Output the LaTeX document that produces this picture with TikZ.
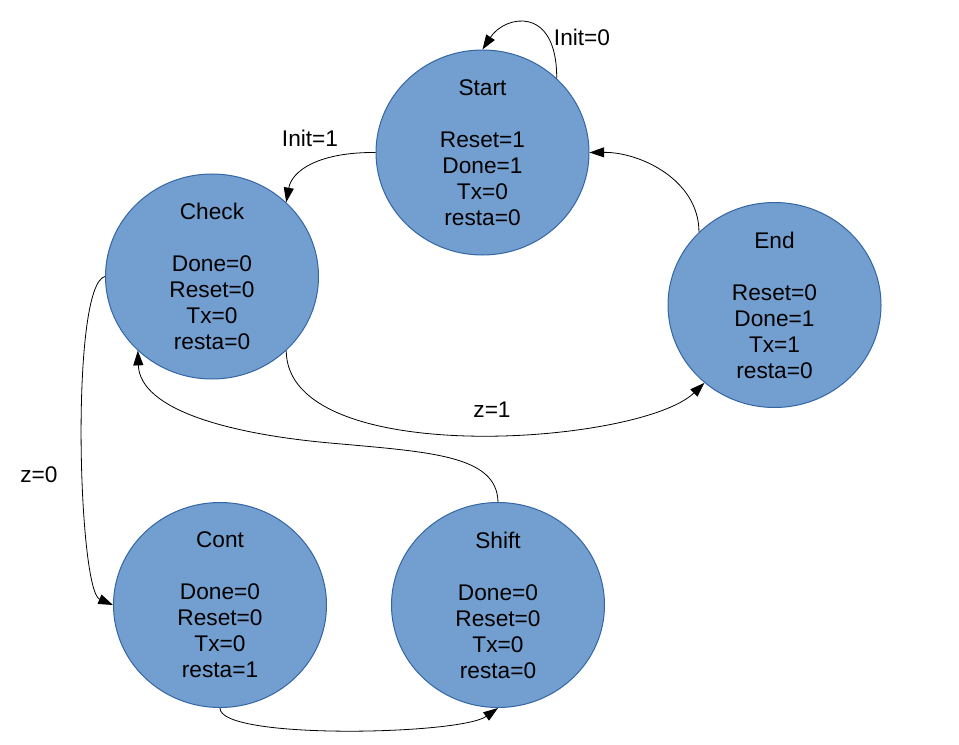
\documentclass[tikz,border=0pt]{standalone}
\usepackage{fontspec}
\setmainfont{Liberation Sans}
\usetikzlibrary{shapes.geometric, arrows.meta}
\definecolor{stfill}{HTML}{729FCF}
\definecolor{stline}{HTML}{3465A4}

\begin{document}
\begin{tikzpicture}
  [x=0.75pt,y=-0.75pt,
st/.style={ellipse,draw=stline,fill=stfill,line width=0.75pt,minimum width=159.75pt,minimum height=153.75pt,inner sep=0pt},
txt/.style={align=center,font=\fontsize{17}{19.5}\selectfont},
lbl/.style={font=\fontsize{17}{19.5}\selectfont},
tr/.style={-{Triangle[length=11pt,width=7.5pt]},line width=0.6pt}]

  \useasboundingbox (0,0) rectangle (959,745);

  \node[st] (start) at (482.5,152.5) {};
  \node[txt] (start-t) at (start) {Start\\[19.5pt]Reset=1\\Done=1\\Tx=0\\resta=0};
  \node[st] (check) at (212,276.5) {};
  \node[txt] (check-t) at (check) {Check\\[19.5pt]Done=0\\Reset=0\\Tx=0\\resta=0};
  \node[st] (fin) at (774.5,305) {};
  \node[txt] (fin-t) at (fin) {End\\[19.5pt]Reset=0\\Done=1\\Tx=1\\resta=0};
  \node[st] (cont) at (220,605) {};
  \node[txt] (cont-t) at (cont) {Cont\\[19.5pt]Done=0\\Reset=0\\Tx=0\\resta=1};
  \node[st] (shf) at (498,605) {};
  \node[txt] (shf-t) at (shf) {Shift\\[19.5pt]Done=0\\Reset=0\\Tx=0\\resta=0};

  \node[lbl] (l-init0) at (582,37) {Init=0};
  \node[lbl] (l-init1) at (310,138) {Init=1};
  \node[lbl] (l-z1) at (492,410) {z=1};
  \node[lbl] (l-z0) at (39,475) {z=0};

\draw [tr] (start.45) .. controls (557,5) and (505,15) .. (start.90);
\draw [tr] (start.180) .. controls (320,152) and (292,170) .. (check.45);
\draw [tr] (fin.136) .. controls (699,180) and (640,152) .. (start.0);
\draw [tr] (check.315) .. controls (287,470) and (640,445) .. (fin.228);
\draw [tr] (shf.90) .. controls (497,455) and (430,452) .. (330,443)
                    .. controls (230,434) and (140,410) .. (check.225);
\draw [tr] (check.180) .. controls (70,285) and (78,590) .. (cont.180);
\draw [tr] (cont.270) .. controls (219,740) and (460,735) .. (shf.270);

\end{tikzpicture}
\end{document}
